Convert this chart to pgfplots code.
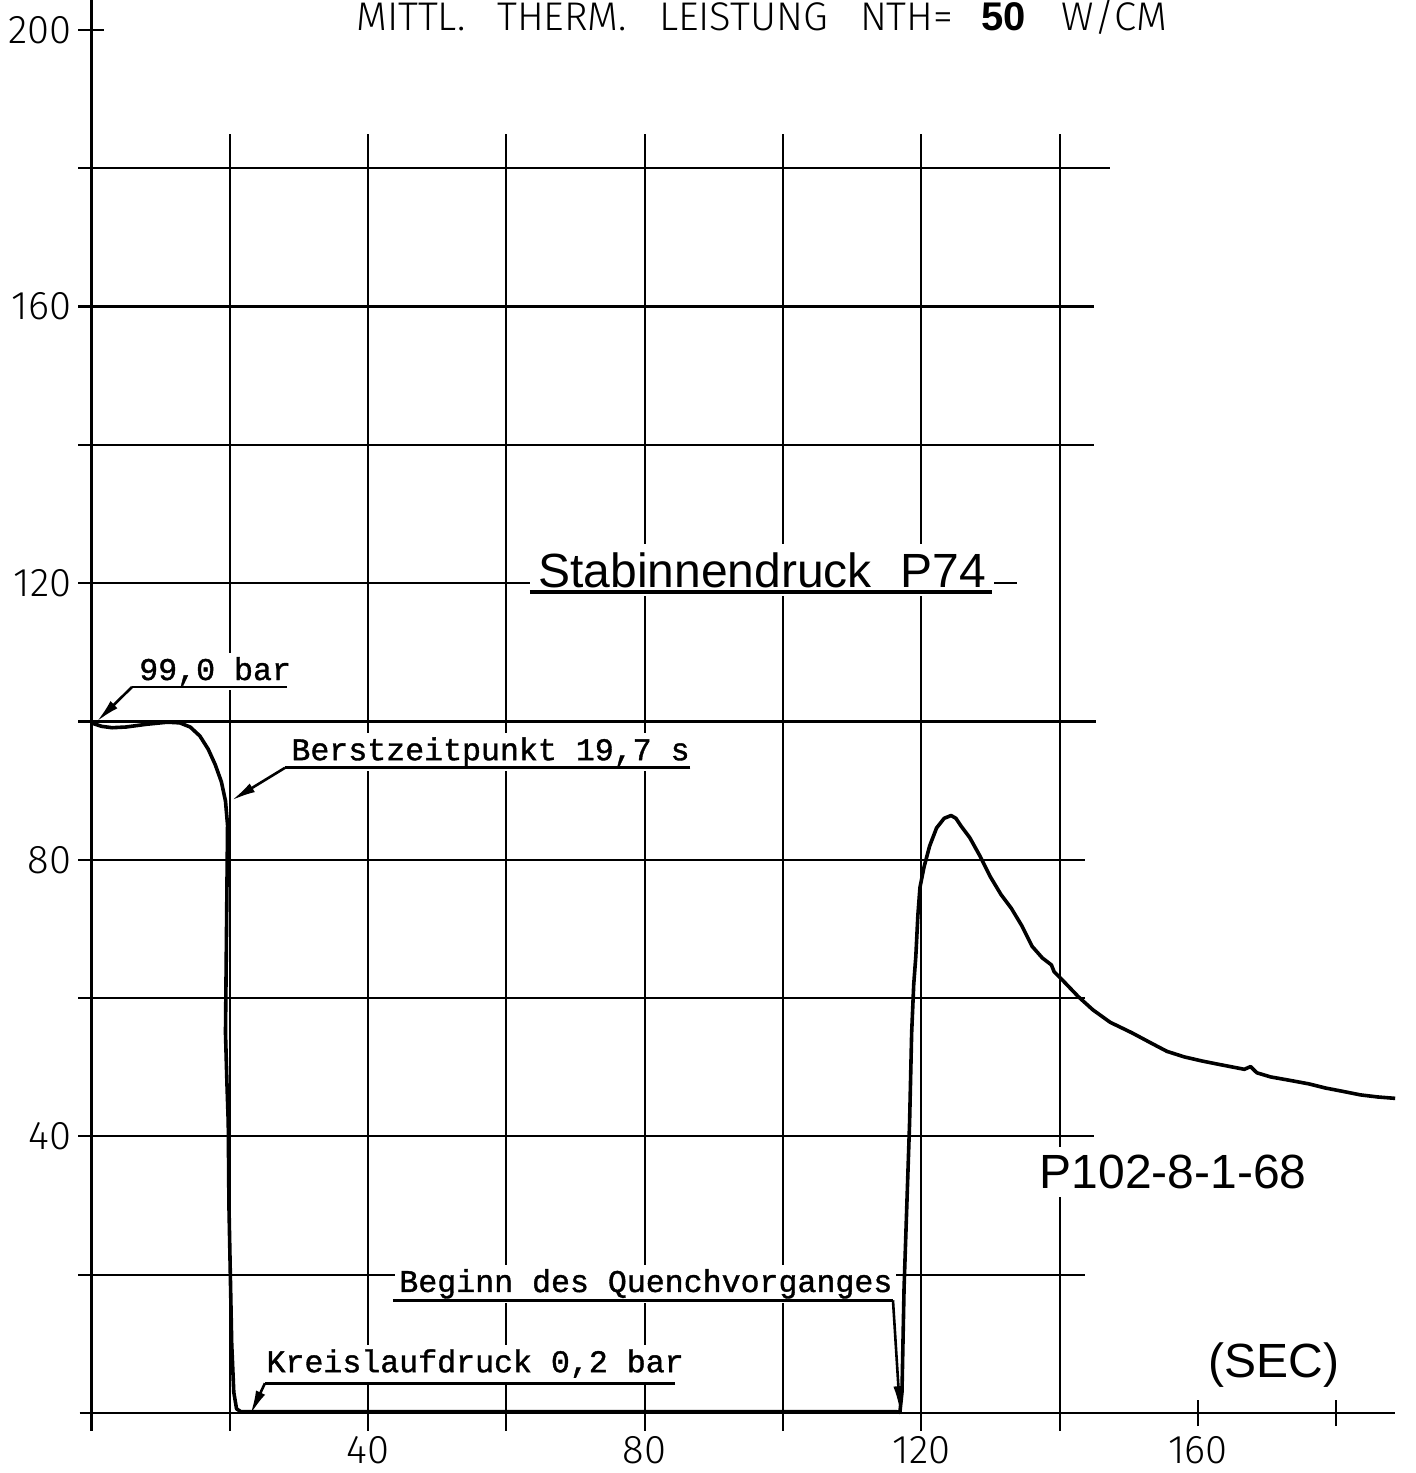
\documentclass[border=0pt]{standalone}
\usepackage{pgfplots}
\pgfplotsset{compat=1.18}
\usepackage{fontspec}
\setmainfont{Liberation Sans}
\newfontfamily\plotfont{Fira Sans Light}
\newfontfamily\monofont{Liberation Mono}[FakeBold=1.2]
\usetikzlibrary{arrows.meta}

\tikzset{
  gridline/.style={line width=1.1pt, black},
  lead/.style={line width=1.3pt, -{Latex[length=12pt, width=5pt]}},
  uline/.style={line width=1.4pt},
  monolabel/.style={font=\monofont\fontsize{15.8}{16}\selectfont, fill=white, inner sep=2pt, anchor=base west},
}

\begin{document}
\begin{tikzpicture}
\useasboundingbox (-45.65pt,-30pt) rectangle (661.85pt,706.5pt);
\begin{axis}[
  anchor=origin, at={(0pt,0pt)},
  x=3.4585pt, y=3.4575pt,
  xmin=-1.7, xmax=188.5, ymin=-2.6, ymax=204.3,
  axis lines=middle,
  axis line style={-, line width=1.3pt},
  every inner x axis line/.append style={-},
  every inner y axis line/.append style={-},
  xtick={20,40,...,180}, xticklabels={,40,,80,,120,,160,},
  ytick={20,40,...,200}, yticklabels={,40,,80,,120,,160,,200},
  tick align=center, major tick length=13pt,
  tick style={line width=1.1pt, black},
  ticklabel style={font=\plotfont\fontsize{20}{20}\selectfont},
  xticklabel style={anchor=north, yshift=-1.5pt},
  yticklabel style={anchor=east},
  clip=false,
]
% grid
\draw[gridline] (axis cs:-1.9,180) -- (axis cs:147.3,180);
\draw[gridline] (axis cs:-1.9,160) -- (axis cs:145.0,160);
\draw[gridline] (axis cs:-1.9,140) -- (axis cs:145.0,140);
\draw[gridline] (axis cs:-1.9,120) -- (axis cs:133.8,120);
\draw[gridline] (axis cs:-1.9,100) -- (axis cs:145.2,100);
\draw[gridline] (axis cs:-1.9,80) -- (axis cs:143.6,80);
\draw[gridline] (axis cs:-1.9,60) -- (axis cs:143.6,60);
\draw[gridline] (axis cs:-1.9,40) -- (axis cs:145.0,40);
\draw[gridline] (axis cs:-1.9,20) -- (axis cs:143.6,20);
\pgfplotsinvokeforeach{20,40,...,140}{
  \draw[gridline] (axis cs:#1,-2.6) -- (axis cs:#1,185);
}

% title
\node[font=\plotfont\fontsize{20}{20}\selectfont] at (axis cs:96.9,202.0)
  {MITTL.\hspace{0.8em}THERM.\hspace{0.8em}LEISTUNG\hspace{0.8em}NTH=\hspace{0.7em}{\fontspec{Liberation Sans}\bfseries 50}\hspace{0.9em}W/CM};

% labels
\node[font=\fontsize{24}{24}\selectfont, fill=white, inner sep=4pt] at (axis cs:97.0,121.9) {Stabinnendruck\hspace{0.6em}P74};
\draw[line width=2pt] (axis cs:63.4,118.7) -- (axis cs:130.2,118.7);
\node[font=\fontsize{24}{24}\selectfont, fill=white, inner sep=4pt] at (axis cs:156.4,34.9) {P102-8-1-68};
\node[font=\fontsize{24}{24}\selectfont, fill=white, inner sep=2pt] at (axis cs:171.0,6.9) {(SEC)};

\node[monolabel] at (axis cs:6.3,106.0) {99,0 bar};
\draw[uline] (axis cs:28.3,105.0) -- (axis cs:5.9,105.0);
\draw[lead] (axis cs:5.9,105.0) -- (axis cs:0.8,100.0);

\node[monolabel] at (axis cs:28.3,94.4) {Berstzeitpunkt 19,7 s};
\draw[uline] (axis cs:86.6,93.3) -- (axis cs:28.0,93.3);
\draw[lead] (axis cs:28.0,93.3) -- (axis cs:20.3,88.6);

\node[monolabel] at (axis cs:24.7,5.9) {Kreislaufdruck 0,2 bar};
\draw[uline] (axis cs:84.4,4.3) -- (axis cs:25.1,4.3);
\draw[lead] (axis cs:25.1,4.3) -- (axis cs:23.0,-0.2);

\node[monolabel] at (axis cs:43.9,17.5) {Beginn des Quenchvorganges};
\draw[uline] (axis cs:43.6,16.3) -- (axis cs:115.9,16.3);
\draw[lead] (axis cs:115.9,16.3) -- (axis cs:116.9,0.4);

% rod internal pressure
\addplot[line width=1.8pt, line join=round, black] coordinates {
(0,99.8) (1.5,99.3) (3,99.1) (5,99.2) (8,99.6) (11,99.9) (12.8,99.8) (14.3,99.2)
(15.7,97.9) (16.9,96.0) (17.9,93.8) (18.8,91.3) (19.4,88.5) (19.7,85)
(19.6,75) (19.5,65) (19.4,55) (19.6,48) (19.8,42) (19.9,30) (20.1,20) (20.3,10)
(20.6,3) (21.0,0.6) (21.6,0.2) (116.3,0.2)
(116.9,0.1) (117.2,3) (117.5,18) (117.9,30) (118.3,42) (118.6,55) (118.9,62)
(119.2,66) (119.5,72) (119.8,76) (120.4,79) (121.2,82) (122.2,84.6) (123.3,86.0)
(124.3,86.4) (125.0,86.0) (125.8,84.8) (127.0,83.2) (128.5,80.5) (130.0,77.5)
(131.5,75.0) (133.0,73.0) (134.5,70.5) (136.0,67.5) (137.5,65.8) (138.8,64.8)
(139.2,63.8) (140.5,62.5) (142.7,60.2) (144.8,58.3) (147.3,56.5) (150.4,55.0)
(153.4,53.4) (155.5,52.3) (158.0,51.5) (160.6,50.9) (163.1,50.4) (166.7,49.7)
(167.6,50.1) (168.5,49.2) (170.5,48.6) (173.3,48.1) (176,47.6) (178.4,47.0)
(181,46.5) (183.5,46.0) (186,45.7) (188.5,45.5)
};
\end{axis}
\end{tikzpicture}
\end{document}
